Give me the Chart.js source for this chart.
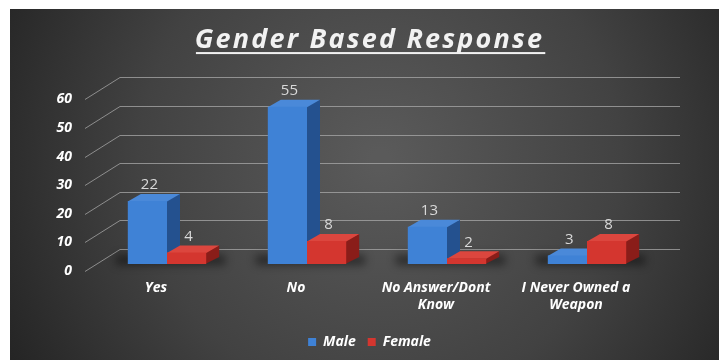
<!DOCTYPE html>
<html>
<head>
<meta charset="utf-8">
<script src="https://cdn.jsdelivr.net/npm/chart.js@4/dist/chart.umd.min.js"></script>
<style>
  html, body { margin: 0; padding: 0; background: #ffffff; }
  #wrap { position: relative; width: 719px; height: 360px; }
</style>
</head>
<body>
<div id="wrap"><canvas id="c" width="719" height="360"></canvas></div>
<script>
const titleText = "Gender Based Response";
const categories = [["Yes"], ["No"], ["No Answer/Dont", "Know"], ["I Never Owned a", "Weapon"]];
const seriesNames = ["Male", "Female"];
const maleValues = [22, 55, 13, 3];
const femaleValues = [4, 8, 2, 8];
const yTicks = [0, 10, 20, 30, 40, 50, 60];

const DX = 13, DY = -7;          // bar depth
const GDX = 35, GDY = -22;       // floor depth for gridlines
const TITLE_SPACING = 2.2;
const palette = {
  male:   { front: ["#3f82d6", "#2f69b6"], side: "#24518f", top: "#4a89d9" },
  female: { front: ["#d4362f", "#b4261f"], side: "#8a1d19", top: "#dc463e" }
};
const fontFam = "'Open Sans', 'DejaVu Sans', sans-serif";

function frontFill(ctx, key) {
  const chart = ctx.chart;
  const el = ctx.element;
  if (!chart.chartArea || !el) return palette[key].front[0];
  const p = el.getProps(['x', 'width'], true);
  if (!isFinite(p.x) || !isFinite(p.width)) return palette[key].front[0];
  const g = chart.ctx.createLinearGradient(p.x - p.width / 2, 0, p.x + p.width / 2, 0);
  g.addColorStop(0, palette[key].front[0]);
  g.addColorStop(1, palette[key].front[1]);
  return g;
}

const bgPlugin = {
  id: 'bg',
  afterLayout(chart) {
    const tb = chart.titleBlock;
    if (tb && !tb._spaced) {
      const orig = tb.draw;
      tb.draw = function (a) {
        const c = chart.ctx;
        const prev = c.letterSpacing;
        c.letterSpacing = TITLE_SPACING + 'px';
        orig.call(this, a);
        c.letterSpacing = prev || '0px';
      };
      tb._spaced = true;
    }
  },
  beforeDraw(chart) {
    const c = chart.ctx;
    c.save();
    c.fillStyle = '#ffffff';
    c.fillRect(0, 0, chart.width, chart.height);
    const g = c.createRadialGradient(380, 160, 10, 380, 160, 430);
    g.addColorStop(0, '#5a5a5a');
    g.addColorStop(0.55, '#424242');
    g.addColorStop(1, '#232323');
    c.fillStyle = g;
    c.fillRect(10, 9, chart.width - 10, chart.height - 9);
    c.restore();
  }
};

const depthPlugin = {
  id: 'depth',
  beforeDatasetsDraw(chart) {
    const c = chart.ctx;
    const ys = chart.scales.y;
    const area = chart.chartArea;
    c.save();
    c.strokeStyle = 'rgba(170,170,170,0.75)';
    c.lineWidth = 1;
    yTicks.forEach(v => {
      const y = Math.round(ys.getPixelForValue(v)) + 0.5;
      c.beginPath();
      c.moveTo(area.left - 12, y + 7);
      c.lineTo(area.left - 12 + GDX, y + 7 + GDY);
      c.lineTo(area.right + 23, y + 7 + GDY);
      c.stroke();
    });
    c.filter = 'blur(4px)';
    c.fillStyle = 'rgba(0,0,0,0.45)';
    const m0 = chart.getDatasetMeta(0), m1 = chart.getDatasetMeta(1);
    m0.data.forEach((b, i) => {
      const b1 = m1.data[i];
      const l = b.x - b.width / 2 - 12;
      const r = b1.x + b1.width / 2 + DX + 6;
      c.fillRect(l, b.base + DY - 2, r - l, 10);
    });
    c.filter = 'none';
    [0, 1].forEach(di => {
      const key = di === 0 ? 'male' : 'female';
      chart.getDatasetMeta(di).data.forEach(b => {
        const l = b.x - b.width / 2, r = b.x + b.width / 2;
        const t = b.y, bs = b.base;
        c.fillStyle = palette[key].side;
        c.beginPath();
        c.moveTo(r - 1, t); c.lineTo(r + DX, t + DY); c.lineTo(r + DX, bs + DY); c.lineTo(r - 1, bs);
        c.closePath(); c.fill();
        c.fillStyle = palette[key].top;
        c.beginPath();
        c.moveTo(l, t + 0.5); c.lineTo(l + DX, t + DY); c.lineTo(r + DX, t + DY); c.lineTo(r, t + 0.5);
        c.closePath(); c.fill();
      });
    });
    c.restore();
  },
  afterDatasetsDraw(chart) {
    const c = chart.ctx;
    c.save();
    c.font = "15px " + fontFam;
    c.fillStyle = '#d9d9d9';
    c.textAlign = 'center';
    c.textBaseline = 'middle';
    chart.data.datasets.forEach((ds, di) => {
      chart.getDatasetMeta(di).data.forEach((b, i) => {
        c.fillText(String(ds.data[i]), b.x + 2, b.y - 16);
      });
    });
    c.restore();
  },
  afterDraw(chart) {
    const tb = chart.titleBlock;
    if (!tb) return;
    const c = chart.ctx;
    const o = chart.options.plugins.title;
    c.save();
    c.font = "italic bold " + o.font.size + "px " + fontFam;
    c.letterSpacing = TITLE_SPACING + 'px';
    const w = c.measureText(titleText).width - TITLE_SPACING;
    const cx = (tb.left + tb.right) / 2 + TITLE_SPACING / 2;
    const cy = tb.top + o.padding.top + o.font.size * 1.2 / 2;
    c.fillStyle = '#f2f2f2';
    c.fillRect(cx - w / 2 - 1, cy + o.font.size * 0.44, w + 2, 2);
    c.restore();
  }
};

new Chart(document.getElementById('c'), {
  type: 'bar',
  data: {
    labels: categories,
    datasets: [
      { label: seriesNames[0], data: maleValues,
        backgroundColor: ctx => frontFill(ctx, 'male'), borderWidth: 0,
        categoryPercentage: 0.56, barPercentage: 1.0 },
      { label: seriesNames[1], data: femaleValues,
        backgroundColor: ctx => frontFill(ctx, 'female'), borderWidth: 0,
        categoryPercentage: 0.56, barPercentage: 1.0 }
    ]
  },
  options: {
    responsive: false,
    animation: false,
    events: [],
    layout: { padding: { left: 20, right: 0, top: 0, bottom: 1 } },
    plugins: {
      tooltip: { enabled: false },
      title: {
        display: true,
        text: titleText,
        color: '#f2f2f2',
        font: { family: fontFam, size: 27, style: 'italic', weight: 'bold', lineHeight: 1.2 },
        padding: { top: 24, bottom: 36 }
      },
      legend: {
        display: true,
        position: 'bottom',
        labels: {
          color: '#ffffff',
          font: { family: fontFam, size: 14, style: 'italic', weight: 'bold' },
          usePointStyle: true,
          pointStyle: 'rect',
          boxWidth: 8,
          boxHeight: 8,
          padding: 12,
          generateLabels(chart) {
            return chart.data.datasets.map((ds, i) => ({
              text: ds.label,
              fillStyle: i === 0 ? palette.male.front[0] : palette.female.front[0],
              strokeStyle: i === 0 ? palette.male.front[0] : palette.female.front[0],
              lineWidth: 0,
              pointStyle: 'rect',
              fontColor: '#ffffff',
              datasetIndex: i,
              hidden: false
            }));
          }
        }
      }
    },
    scales: {
      x: {
        grid: { display: false, drawTicks: false },
        border: { display: false },
        ticks: {
          color: '#ffffff',
          font: { family: fontFam, size: 14, style: 'italic', weight: 'bold', lineHeight: 1.2 },
          labelOffset: -11,
          padding: 16,
          maxRotation: 0,
          autoSkip: false
        },
        afterFit(s) { s.height = 59; }
      },
      y: {
        min: 0, max: 60,
        grid: { display: false, drawTicks: false },
        border: { display: false },
        ticks: {
          stepSize: 10,
          color: '#ffffff',
          font: { family: fontFam, size: 14, style: 'italic', weight: 'bold' },
          labelOffset: 7,
          padding: 25
        },
        afterFit(s) { s.width = 77; }
      },
      y2: {
        position: 'right',
        min: 0, max: 60,
        grid: { display: false, drawTicks: false },
        border: { display: false },
        ticks: { display: false },
        afterFit(s) { s.width = 62; }
      }
    }
  },
  plugins: [bgPlugin, depthPlugin]
});
</script>
</body>
</html>
